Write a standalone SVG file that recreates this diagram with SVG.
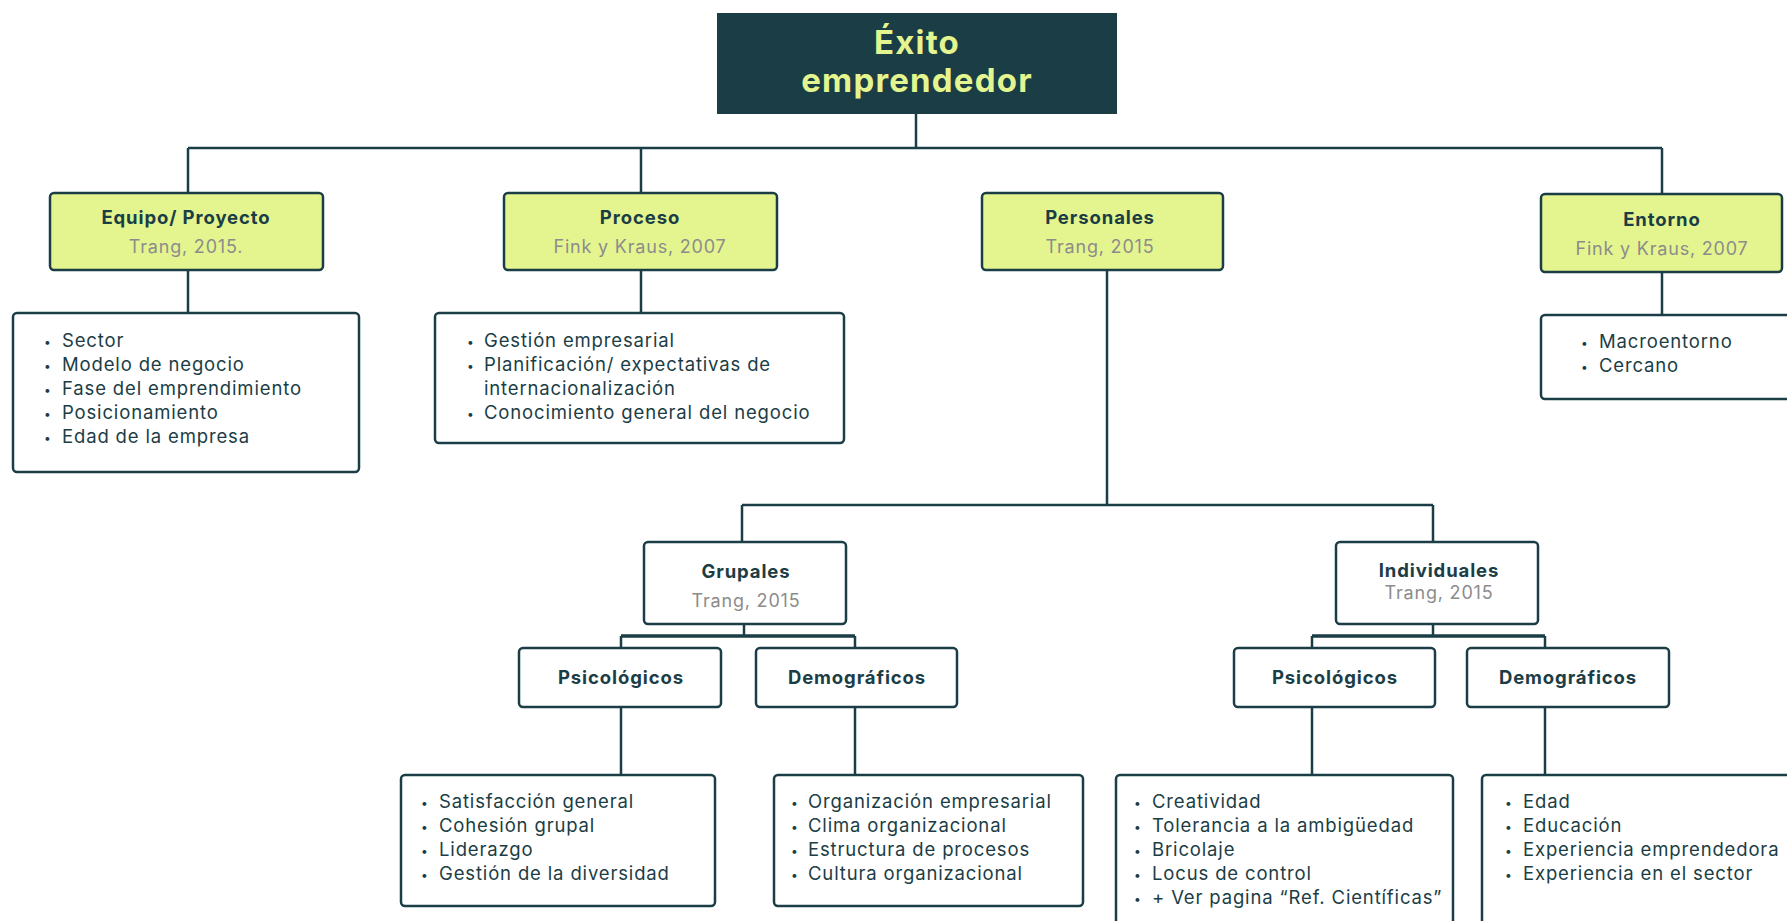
<svg xmlns="http://www.w3.org/2000/svg" width="1787" height="921" viewBox="0 0 1787 921">
<style>
.bg{fill:#ffffff}
.root{fill:#1b3d45}
.hdr{fill:#e4f58f;stroke:#1b3d45;stroke-width:2.5}
.box{fill:#ffffff;stroke:#1b3d45;stroke-width:2.5}
.ln{fill:none;stroke:#1b3d45;stroke-width:2.5}
.ln2{fill:none;stroke:#1b3d45;stroke-width:3.5}
.title{font-family:Inter,"Open Sans",sans-serif;font-weight:700;font-size:33px;letter-spacing:1.2px;fill:#e4f58f;text-anchor:middle}
.h{font-family:Inter,"Open Sans",sans-serif;font-weight:700;font-size:18.5px;letter-spacing:0.9px;fill:#1b3d45;text-anchor:middle}
.c{font-family:Inter,"Open Sans",sans-serif;font-size:18px;letter-spacing:0.8px;fill:#8c8c8c;text-anchor:middle}
.li{font-family:Inter,"Open Sans",sans-serif;font-size:18.5px;letter-spacing:0.85px;fill:#1b3d45}
.bu{font-family:Inter,"Open Sans",sans-serif;font-size:12px;fill:#1b3d45}
</style>
<rect class="bg" x="0" y="0" width="1787" height="921"/>
<g id="connectors">
<path class="ln" d="M916 114V148M188 148H1662M188 148V193M641 148V193M1662 148V194"/>
<path class="ln" d="M188 270V313M641 270V313M1662 272V315"/>
<path class="ln" d="M1107 270V505M742 505H1433M742 505V542M1433 505V542"/>
<path class="ln" d="M744 624V636M621 636V648M855 636V648"/>
<path class="ln2" d="M621 636H855"/>
<path class="ln" d="M1433 624V636M1312 636V648M1545 636V648"/>
<path class="ln2" d="M1312 636H1545"/>
<path class="ln" d="M621 707V775M855 707V775M1312 707V775M1545 707V775"/>
</g>
<g id="root">
<rect class="root" x="717" y="13" width="400" height="101"/>
<text class="title" x="917" y="54">Éxito</text>
<text class="title" x="917" y="92">emprendedor</text>
</g>
<g id="equipo">
<rect class="hdr" x="50" y="193" width="273" height="77" rx="4"/>
<text class="h" x="186" y="224">Equipo/ Proyecto</text>
<text class="c" x="186" y="253">Trang, 2015.</text>
</g>
<g id="equipo-list">
<rect class="box" x="13" y="313" width="346" height="159" rx="4"/>
<text class="bu" x="44" y="346">•</text><text class="li" x="62" y="347">Sector</text>
<text class="bu" x="44" y="370">•</text><text class="li" x="62" y="371">Modelo de negocio</text>
<text class="bu" x="44" y="394">•</text><text class="li" x="62" y="395">Fase del emprendimiento</text>
<text class="bu" x="44" y="418">•</text><text class="li" x="62" y="419">Posicionamiento</text>
<text class="bu" x="44" y="442">•</text><text class="li" x="62" y="443">Edad de la empresa</text>
</g>
<g id="proceso">
<rect class="hdr" x="504" y="193" width="273" height="77" rx="4"/>
<text class="h" x="640" y="224">Proceso</text>
<text class="c" x="640" y="253">Fink y Kraus, 2007</text>
</g>
<g id="proceso-list">
<rect class="box" x="435" y="313" width="409" height="130" rx="4"/>
<text class="bu" x="467" y="346">•</text><text class="li" x="484" y="347">Gestión empresarial</text>
<text class="bu" x="467" y="370">•</text><text class="li" x="484" y="371">Planificación/ expectativas de</text>
<text class="li" x="484" y="395">internacionalización</text>
<text class="bu" x="467" y="418">•</text><text class="li" x="484" y="419">Conocimiento general del negocio</text>
</g>
<g id="personales">
<rect class="hdr" x="982" y="193" width="241" height="77" rx="4"/>
<text class="h" x="1100" y="224">Personales</text>
<text class="c" x="1100" y="253">Trang, 2015</text>
</g>
<g id="entorno">
<rect class="hdr" x="1541" y="194" width="241" height="78" rx="4"/>
<text class="h" x="1662" y="226">Entorno</text>
<text class="c" x="1662" y="255">Fink y Kraus, 2007</text>
</g>
<g id="entorno-list">
<rect class="box" x="1541" y="315" width="260" height="84" rx="4"/>
<text class="bu" x="1581" y="347">•</text><text class="li" x="1599" y="348">Macroentorno</text>
<text class="bu" x="1581" y="371">•</text><text class="li" x="1599" y="372">Cercano</text>
</g>
<g id="grupales">
<rect class="box" x="644" y="542" width="202" height="82" rx="4"/>
<text class="h" x="746" y="578">Grupales</text>
<text class="c" x="746" y="607">Trang, 2015</text>
</g>
<g id="individuales">
<rect class="box" x="1336" y="542" width="202" height="82" rx="4"/>
<text class="h" x="1439" y="577">Individuales</text>
<text class="c" x="1439" y="599">Trang, 2015</text>
</g>
<g id="psico-g">
<rect class="box" x="519" y="648" width="202" height="59" rx="4"/>
<text class="h" x="621" y="684">Psicológicos</text>
</g>
<g id="demo-g">
<rect class="box" x="756" y="648" width="201" height="59" rx="4"/>
<text class="h" x="857" y="684">Demográficos</text>
</g>
<g id="psico-i">
<rect class="box" x="1234" y="648" width="201" height="59" rx="4"/>
<text class="h" x="1335" y="684">Psicológicos</text>
</g>
<g id="demo-i">
<rect class="box" x="1467" y="648" width="202" height="59" rx="4"/>
<text class="h" x="1568" y="684">Demográficos</text>
</g>
<g id="psico-g-list">
<rect class="box" x="401" y="775" width="314" height="131" rx="4"/>
<text class="bu" x="421" y="807">•</text><text class="li" x="439" y="808">Satisfacción general</text>
<text class="bu" x="421" y="831">•</text><text class="li" x="439" y="832">Cohesión grupal</text>
<text class="bu" x="421" y="855">•</text><text class="li" x="439" y="856">Liderazgo</text>
<text class="bu" x="421" y="879">•</text><text class="li" x="439" y="880">Gestión de la diversidad</text>
</g>
<g id="demo-g-list">
<rect class="box" x="774" y="775" width="309" height="131" rx="4"/>
<text class="bu" x="791" y="807">•</text><text class="li" x="808" y="808">Organización empresarial</text>
<text class="bu" x="791" y="831">•</text><text class="li" x="808" y="832">Clima organizacional</text>
<text class="bu" x="791" y="855">•</text><text class="li" x="808" y="856">Estructura de procesos</text>
<text class="bu" x="791" y="879">•</text><text class="li" x="808" y="880">Cultura organizacional</text>
</g>
<g id="psico-i-list">
<rect class="box" x="1116" y="775" width="337" height="170" rx="4"/>
<text class="bu" x="1134" y="807">•</text><text class="li" x="1152" y="808">Creatividad</text>
<text class="bu" x="1134" y="831">•</text><text class="li" x="1152" y="832">Tolerancia a la ambigüedad</text>
<text class="bu" x="1134" y="855">•</text><text class="li" x="1152" y="856">Bricolaje</text>
<text class="bu" x="1134" y="879">•</text><text class="li" x="1152" y="880">Locus de control</text>
<text class="bu" x="1134" y="903">•</text><text class="li" x="1152" y="904">+ Ver pagina “Ref. Científicas”</text>
</g>
<g id="demo-i-list">
<rect class="box" x="1482" y="775" width="330" height="170" rx="4"/>
<text class="bu" x="1505" y="807">•</text><text class="li" x="1523" y="808">Edad</text>
<text class="bu" x="1505" y="831">•</text><text class="li" x="1523" y="832">Educación</text>
<text class="bu" x="1505" y="855">•</text><text class="li" x="1523" y="856">Experiencia emprendedora</text>
<text class="bu" x="1505" y="879">•</text><text class="li" x="1523" y="880">Experiencia en el sector</text>
</g>
</svg>
